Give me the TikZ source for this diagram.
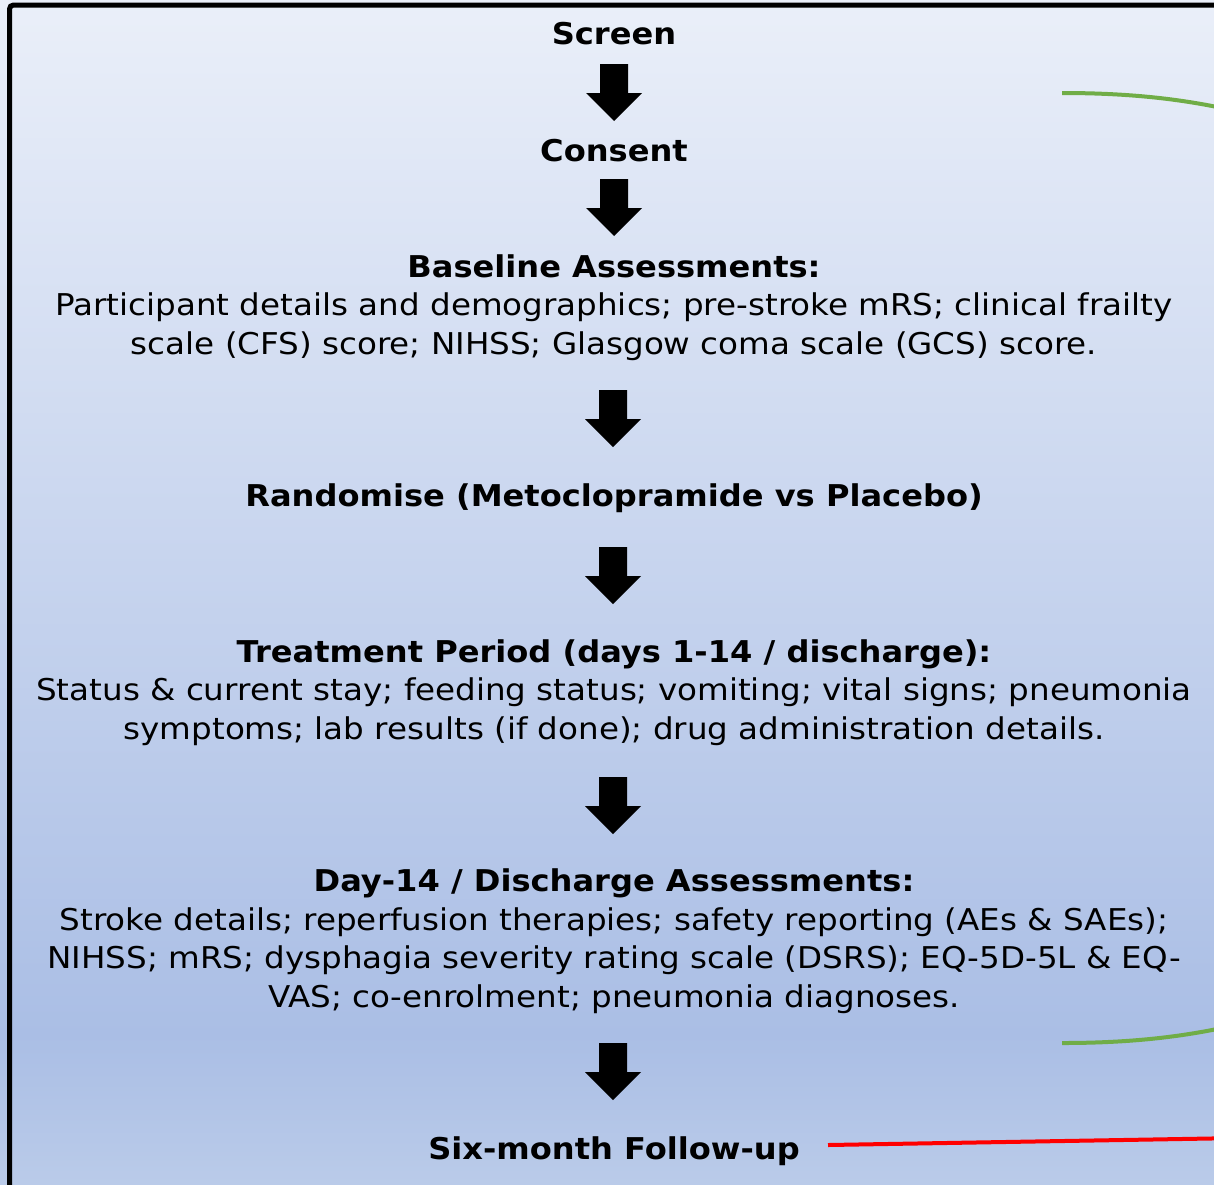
\documentclass[tikz,border=0pt]{standalone}
\usepackage{fontspec}
\setmainfont{DejaVu Sans}[FakeStretch=1.085, BoldFeatures={FakeStretch=1.07}]
\definecolor{bgtop}{RGB}{234,239,249}
\definecolor{bgmid}{RGB}{170,190,229}
\definecolor{bgbot}{RGB}{186,203,233}
\definecolor{bracegreen}{RGB}{112,173,71}
\definecolor{linkred}{RGB}{255,0,0}
\begin{document}
\begin{tikzpicture}[x=1pt,y=-1pt,
  txt/.style={font=\fontsize{30}{38.5}\selectfont, align=center, inner sep=0pt, anchor=base},
  hd/.style={txt, font=\fontsize{30}{38.5}\selectfont\bfseries},
  downarrow/.pic={\fill[black] (-14,0) -- (14,0) -- (14,29) -- (28,29) -- (0,57) -- (-28,29) -- (-14,29) -- cycle;},
  bracecurve/.style={draw=bracegreen, line width=4pt},
  redlink/.style={draw=linkred, line width=4pt},
  frame/.style={draw=black, line width=5pt, rounded corners=4pt}
]
\useasboundingbox (0,0) rectangle (1214,1184);
\clip (0,0) rectangle (1214,1184);
% background
\shade[top color=bgtop, bottom color=bgmid] (0,0) rectangle (1214,1036);
\shade[top color=bgmid, bottom color=bgbot] (0,1035) rectangle (1214,1184);
% frame
\draw[frame] (9.5,1220) -- (9.5,5) -- (1240,5);

% texts (anchor = baseline of the last line)
\node[hd] (screen) at (614,44) {Screen};
\node[hd] (consent) at (614,161) {Consent};
\node[txt] (baseline) at (614,354) {\textbf{Baseline Assessments:}\\
  Participant details and demographics; pre-stroke mRS; clinical frailty\\
  scale (CFS) score; NIHSS; Glasgow coma scale (GCS) score.};
\node[hd] (random) at (614,506) {Randomise (Metoclopramide vs Placebo)};
\node[txt] (treat) at (614,739) {\textbf{Treatment Period (days 1-14 / discharge):}\\
  Status \& current stay; feeding status; vomiting; vital signs; pneumonia\\
  symptoms; lab results (if done); drug administration details.};
\node[txt] (day14) at (614,1007) {\textbf{Day-14 / Discharge Assessments:}\\
  Stroke details; reperfusion therapies; safety reporting (AEs \& SAEs);\\
  NIHSS; mRS; dysphagia severity rating scale (DSRS); EQ-5D-5L \& EQ-\\
  VAS; co-enrolment; pneumonia diagnoses.};
\node[hd] (followup) at (614,1159) {Six-month Follow-up};

% block arrows
\pic (a1) at (614,64) {downarrow};
\pic (a2) at (614,179) {downarrow};
\pic (a3) at (613,390) {downarrow};
\pic (a4) at (613,547) {downarrow};
\pic (a5) at (613,777) {downarrow};
\pic (a6) at (613,1043) {downarrow};

% green bracket curves and red link
\coordinate (g1s) at (1062,93);
\coordinate (g1e) at (1240,112);
\coordinate (g2s) at (1062,1043);
\coordinate (g2e) at (1240,1024);
\draw[bracecurve] (g1s) .. controls (1130,93) and (1185,99) .. (g1e);
\draw[bracecurve] (g2s) .. controls (1130,1043) and (1185,1037) .. (g2e);
\coordinate (r1) at (828,1145);
\coordinate (r2) at (1240,1138);
\draw[redlink] (r1) -- (r2);
\end{tikzpicture}
\end{document}
